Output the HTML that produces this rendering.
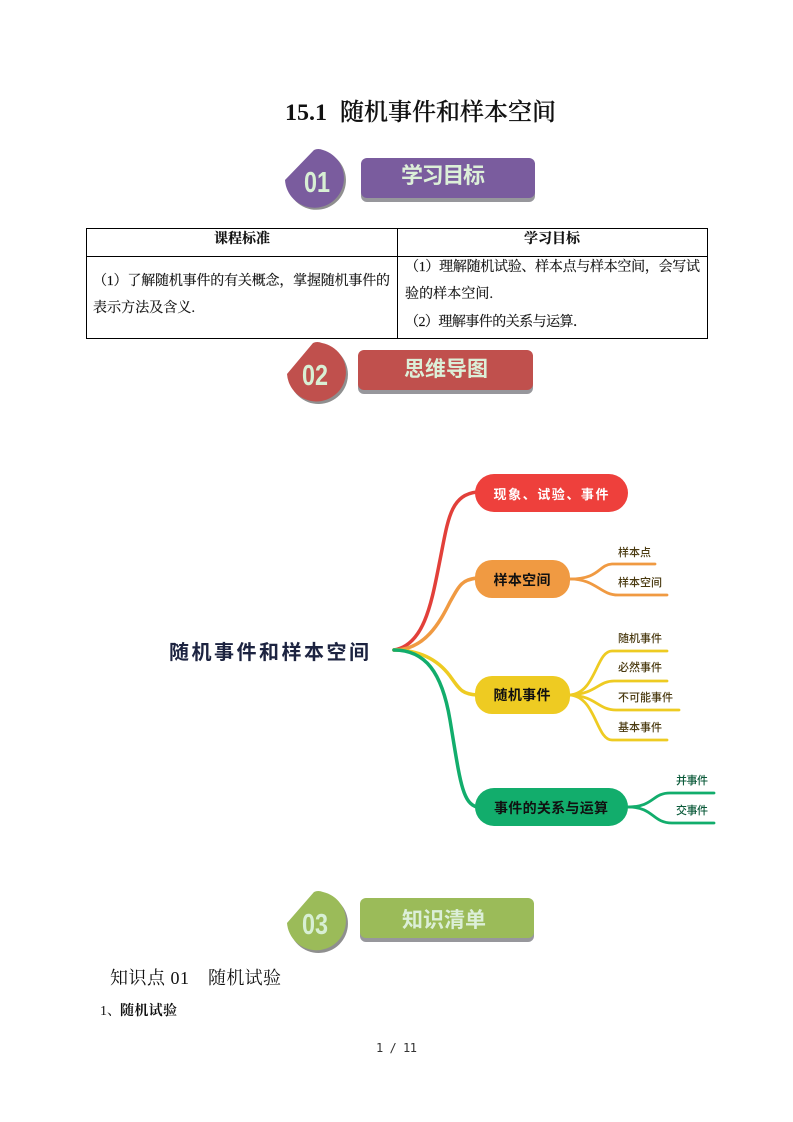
<!DOCTYPE html>
<html lang="zh"><head><meta charset="utf-8"><title>15.1 随机事件和样本空间</title>
<style>
html,body{margin:0;padding:0;background:#fff}
svg{display:block}
.s{font-family:"Liberation Serif","Noto Serif CJK SC",serif}
.h{font-family:"Liberation Sans","Noto Sans CJK SC",sans-serif}
.t{font-size:14px;fill:#111;stroke:#111;stroke-width:.15}
.b{font-family:"Liberation Sans","Noto Sans CJK SC",sans-serif;font-weight:700;font-size:22px;fill:#dcefd8}
.d{font-family:"Liberation Sans Narrow","Liberation Sans",sans-serif;font-weight:700;font-size:29px;fill:#d8efd4}
.n{font-family:"Liberation Sans","Noto Sans CJK SC",sans-serif;font-weight:700;text-anchor:middle}
.l{font-family:"Liberation Sans","Noto Sans CJK SC",sans-serif;font-size:11px;font-weight:500;fill:#4a3a10}
path.c{fill:none;stroke-linecap:round}
</style></head>
<body>
<svg width="793" height="1122" viewBox="0 0 793 1122" xmlns="http://www.w3.org/2000/svg">
<rect width="793" height="1122" fill="#fff"/>

<text x="285" y="120" class="s" font-size="23" font-weight="700" fill="#111" textLength="42" lengthAdjust="spacingAndGlyphs">15.1</text>
<text x="340" y="120" class="s" font-size="24" font-weight="500" fill="#111" stroke="#111" stroke-width=".3" textLength="216">随机事件和样本空间</text>

<!-- 01 -->
<path d="M287 182 L320 151 A29.500 29.500 0 1 1 287 182Z" fill="#8f8f8f"/>
<path d="M285 180 L314 150 Q318 148 323 150 A29.500 29.500 0 1 1 285 180Z" fill="#7a5c9e"/>
<text x="304" y="192" class="d" textLength="26" lengthAdjust="spacingAndGlyphs">01</text>
<rect x="361" y="161" width="174" height="41" rx="6" fill="#97979c"/>
<rect x="361" y="158" width="174" height="40" rx="6" fill="#7a5c9e"/>
<text x="401" y="183" class="b" textLength="84">学习目标</text>

<!-- table -->
<g stroke="#000" stroke-width="1" fill="none">
<rect x="86.500" y="228.500" width="621" height="110"/>
<line x1="86" y1="256.500" x2="708" y2="256.500"/>
<line x1="397.500" y1="228" x2="397.500" y2="339"/>
</g>
<text x="214" y="243" class="s t" font-weight="700" textLength="56">课程标准</text>
<text x="524" y="243" class="s t" font-weight="700" textLength="56">学习目标</text>
<text x="93" y="285" class="s t" textLength="297">（1）了解随机事件的有关概念，掌握随机事件的</text>
<text x="93" y="312" class="s t" textLength="102">表示方法及含义.</text>
<text x="405" y="271" class="s t" textLength="295">（1）理解随机试验、样本点与样本空间，会写试</text>
<text x="405" y="298" class="s t" textLength="88">验的样本空间.</text>
<text x="405" y="326" class="s t" textLength="182">（2）理解事件的关系与运算．</text>

<!-- 02 -->
<path d="M289 376 L319 345 A29.500 29.500 0 1 1 289 376Z" fill="#8f8f8f"/>
<path d="M287 374 L313 343 Q317 341 322 343 A29.500 29.500 0 1 1 287 374Z" fill="#c0504d"/>
<text x="302" y="385" class="d" textLength="26" lengthAdjust="spacingAndGlyphs">02</text>
<rect x="358" y="353" width="175" height="41" rx="6" fill="#97979c"/>
<rect x="358" y="350" width="175" height="40" rx="6" fill="#c0504d"/>
<text x="404" y="376" class="b" style="font-size:21px" textLength="84">思维导图</text>

<!-- mind map -->
<text x="169" y="659" class="h" font-size="20" font-weight="700" fill="#1c2340" textLength="200">随机事件和样本空间</text>

<path class="c" d="M394 650 C425 645 432 600 440 560 C448 520 450 495 477 492" stroke="#e2403a" stroke-width="3.500"/>
<path class="c" d="M394 650 C425 650 440 622 450 602 C460 584 462 580 477 578" stroke="#f09a42" stroke-width="3.500"/>
<path class="c" d="M394 650 C420 650 438 660 450 676 C460 690 462 694 477 695" stroke="#eecb22" stroke-width="3.500"/>
<path class="c" d="M394 650 C425 650 442 672 450 720 C460 780 462 803 477 807" stroke="#12ad6c" stroke-width="3.500"/>

<path class="c" d="M570 579 C600 579 598 565 612 564 L655 564" stroke="#f09a42" stroke-width="2.800"/>
<path class="c" d="M570 579 C596 579 600 595 618 595 L667 595" stroke="#f09a42" stroke-width="2.800"/>

<path class="c" d="M570 695 C596 693 596 651 612 651 L667 651" stroke="#eecb22" stroke-width="2.800"/>
<path class="c" d="M570 695 C596 694 598 681 614 681 L667 681" stroke="#eecb22" stroke-width="2.800"/>
<path class="c" d="M570 695 C596 696 598 710 616 710 L679 710" stroke="#eecb22" stroke-width="2.800"/>
<path class="c" d="M570 695 C596 697 596 740 612 740 L667 740" stroke="#eecb22" stroke-width="2.800"/>

<path class="c" d="M628 807 C654 807 652 793 670 793 L714 793" stroke="#12ad6c" stroke-width="2.800"/>
<path class="c" d="M628 807 C654 807 652 823 672 823 L714 823" stroke="#12ad6c" stroke-width="2.800"/>

<rect x="475" y="474" width="153" height="38" rx="19" fill="#ee403c"/>
<rect x="475" y="560" width="95" height="38" rx="17" fill="#f09a42"/>
<rect x="475" y="676" width="95" height="38" rx="17" fill="#eecb22"/>
<rect x="475" y="788" width="153" height="38" rx="19" fill="#12ad6c"/>

<text x="551" y="499" class="n" font-size="13" fill="#fff" textLength="115">现象、试验、事件</text>
<text x="522" y="585" class="n" font-size="14" fill="#111" textLength="57">样本空间</text>
<text x="522" y="700" class="n" font-size="14" fill="#111" textLength="57">随机事件</text>
<text x="551" y="813" class="n" font-size="14" fill="#111" textLength="114">事件的关系与运算</text>

<text x="618" y="556" class="l" textLength="33">样本点</text>
<text x="618" y="586" class="l" textLength="44">样本空间</text>
<text x="618" y="642" class="l" textLength="44">随机事件</text>
<text x="618" y="671" class="l" textLength="44">必然事件</text>
<text x="618" y="701" class="l" textLength="55">不可能事件</text>
<text x="618" y="731" class="l" textLength="44">基本事件</text>
<text x="676" y="784" class="l" textLength="32" style="fill:#0b5a3a">并事件</text>
<text x="676" y="814" class="l" textLength="32" style="fill:#0b5a3a">交事件</text>

<!-- 03 -->
<path d="M289 925 L320 894 A29.500 29.500 0 1 1 289 925Z" fill="#8f8f8f"/>
<path d="M287 923 L314 892 Q318 890 323 892 A29.500 29.500 0 1 1 287 923Z" fill="#9bbb59"/>
<text x="302" y="934" class="d" textLength="26" lengthAdjust="spacingAndGlyphs">03</text>
<rect x="360" y="902" width="174" height="40" rx="6" fill="#97979c"/>
<rect x="360" y="898" width="174" height="40" rx="6" fill="#9bbb59"/>
<text x="402" y="927" class="b" style="font-size:21px" textLength="84">知识清单</text>

<text x="110" y="984" class="s" font-size="18" fill="#111" textLength="79">知识点 01</text>
<text x="208" y="984" class="s" font-size="18" fill="#111" textLength="73">随机试验</text>
<text x="100" y="1015" class="s" font-size="14" fill="#111">1、</text>
<text x="120" y="1015" class="s" font-size="14" font-weight="700" fill="#111" textLength="57">随机试验</text>
<text x="376" y="1052" font-family="'DejaVu Sans Mono','Liberation Mono',monospace" font-size="12" fill="#333" textLength="41">1 / 11</text>
</svg>
</body></html>
